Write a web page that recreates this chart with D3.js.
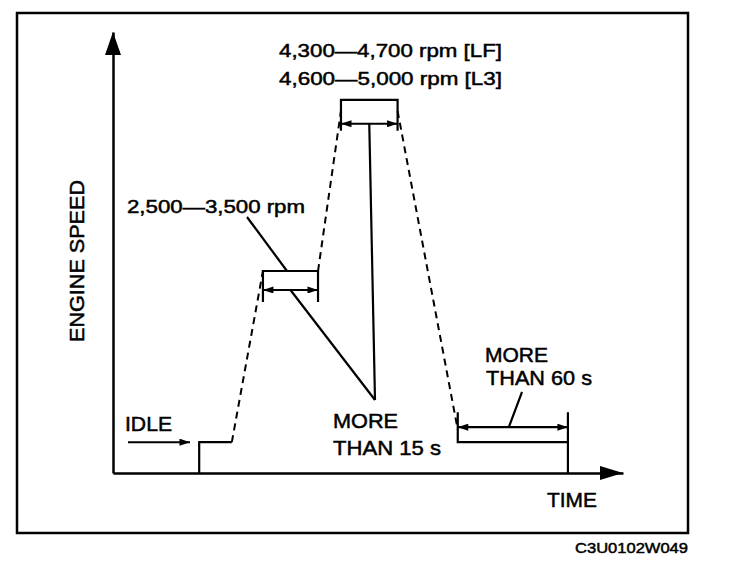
<!DOCTYPE html>
<html lang="en">
<head>
    <meta charset="UTF-8">
    <title>Engine speed test pattern</title>
    <script src="https://d3js.org/d3.v7.min.js"></script>
    <style>
        body { margin: 0; background: #fff; }
        svg { display: block; }
        text { font-family: "Liberation Sans", Arial, sans-serif; fill: #000; stroke: #000; stroke-width: 0.5; }
    </style>
</head>
<body>
    <script>
        // schematic profile: time (arbitrary units) and engine speed (arbitrary units)
        const phaseNames  = ["idle start", "idle end", "hold 1 start", "hold 1 end", "hold 2 start", "hold 2 end", "hold 3 start", "hold 3 end"];
        const phaseTimes  = [16.9, 23.3, 29.4, 40.2, 44.7, 55.8, 67.6, 89.2];
        const phaseLevels = [7.0, 7.0, 45.8, 45.8, 84.6, 84.6, 7.0, 7.0];

        const rangeLabels  = ["4,300—4,700 rpm [LF]", "4,600—5,000 rpm [L3]", "2,500—3,500 rpm"];
        const holdLabels   = ["MORE", "THAN 15 s", "MORE", "THAN 60 s"];
        const axisLabels   = ["ENGINE SPEED", "TIME"];
        const idleLabel    = "IDLE";
        const figureCode   = "C3U0102W049";

        const w = 736;
        const h = 562;
        const svg = d3.select("body")
            .append("svg")
            .attr("width", w)
            .attr("height", h);

        const x = d3.scaleLinear().domain([0, 100]).range([113, 623]);
        const y = d3.scaleLinear().domain([0, 100]).range([473, 32]);

        const pts = phaseTimes.map(function(t, i) { return [t, phaseLevels[i]]; });
        const line = d3.line().x(function(d) { return x(d[0]); }).y(function(d) { return y(d[1]); });

        // frame
        svg.append("rect")
            .attr("x", 17).attr("y", 13)
            .attr("width", 671).attr("height", 520)
            .attr("fill", "none").attr("stroke", "#000").attr("stroke-width", 2.5);

        // arrow markers
        const defs = svg.append("defs");
        defs.append("marker")
            .attr("id", "head")
            .attr("markerUnits", "userSpaceOnUse")
            .attr("viewBox", "0 0 12 8")
            .attr("refX", 12).attr("refY", 4)
            .attr("markerWidth", 12).attr("markerHeight", 7)
            .attr("orient", "auto-start-reverse")
            .append("path").attr("d", "M0,0 L12,4 L0,8 Z").attr("fill", "#000");

        // axes (no ticks, just the lines)
        svg.append("g")
            .attr("transform", "translate(0," + y(0) + ")")
            .call(d3.axisBottom(x).tickValues([]).tickSizeOuter(0))
            .select(".domain").attr("stroke-width", 2.5);
        svg.append("g")
            .attr("transform", "translate(" + x(0) + ",0)")
            .call(d3.axisLeft(y).tickValues([]).tickSizeOuter(0))
            .select(".domain").attr("stroke-width", 2.5);

        svg.append("path")
            .attr("d", "M" + x(0) + "," + y(100) + " L" + (x(0) + 8) + "," + (y(100) + 23) + " L" + (x(0) - 8) + "," + (y(100) + 23) + " Z")
            .attr("fill", "#000");
        svg.append("path")
            .attr("d", "M" + x(100) + "," + y(0) + " L" + (x(100) - 23) + "," + (y(0) - 7) + " L" + (x(100) - 23) + "," + (y(0) + 7) + " Z")
            .attr("fill", "#000");

        const solid = function(d) {
            svg.append("path").attr("d", line(d))
                .attr("fill", "none").attr("stroke", "#000").attr("stroke-width", 2.2);
        };
        const dashed = function(d) {
            svg.append("path").attr("d", line(d))
                .attr("fill", "none").attr("stroke", "#000").attr("stroke-width", 2)
                .attr("stroke-dasharray", "7,5");
        };

        // idle stretch with its start tick
        solid([[phaseTimes[0], 0], pts[0], pts[1]]);

        // ramps between stages
        dashed([pts[1], pts[2]]);
        dashed([pts[3], [pts[4][0], pts[4][1] - 2.5]]);
        dashed([[pts[5][0], pts[5][1] - 2.5], [pts[6][0], pts[6][1] + 2.8]]);

        // hold brackets: top line with ticks hanging down, and a double arrow
        function holdBracket(i0, i1, dir, tick, arrow, extraDown) {
            const a = pts[i0], b = pts[i1];
            solid([[a[0], a[1] + dir * tick], a, b, [b[0], b[1] + dir * tick]]);
            if (extraDown) solid([b, [b[0], 0]]);
            svg.append("line")
                .attr("x1", x(a[0])).attr("x2", x(b[0]))
                .attr("y1", y(a[1] + dir * arrow)).attr("y2", y(a[1] + dir * arrow))
                .attr("stroke", "#000").attr("stroke-width", 2.2)
                .attr("marker-start", "url(#head)").attr("marker-end", "url(#head)");
            return [(a[0] + b[0]) / 2, a[1] + dir * arrow];
        }
        const mid1 = holdBracket(2, 3, -1, 7.0, 4.3, false);
        const mid2 = holdBracket(4, 5, -1, 7.0, 5.4, false);
        const mid3 = holdBracket(6, 7, 1, 6.8, 3.4, true);

        // leader lines
        const leader = function(x1, y1, x2, y2) {
            svg.append("line")
                .attr("x1", x1).attr("y1", y1).attr("x2", x2).attr("y2", y2)
                .attr("stroke", "#000").attr("stroke-width", 2.2);
        };
        leader(247, 217, 287, y(pts[2][1]));
        leader(x(mid1[0]), y(mid1[1]), 375, 400);
        leader(x(mid2[0]), y(mid2[1]), 375, 400);
        leader(522, 392, x(mid3[0]) - 4, y(mid3[1]));

        // idle arrow
        svg.append("line")
            .attr("x1", 128).attr("x2", 190)
            .attr("y1", y(phaseLevels[0])).attr("y2", y(phaseLevels[0]))
            .attr("stroke", "#000").attr("stroke-width", 2)
            .attr("marker-end", "url(#head)");

        // labels
        const label = function(txt, lx, ly, len, size) {
            return svg.append("text")
                .attr("x", lx).attr("y", ly)
                .attr("font-size", size)
                .attr("textLength", len)
                .attr("lengthAdjust", "spacingAndGlyphs")
                .text(txt);
        };
        label(rangeLabels[0], 279, 57, 223, 19);
        label(rangeLabels[1], 279, 85, 223, 19);
        label(rangeLabels[2], 127, 213, 178, 19);
        label(idleLabel, 125, 431, 47, 20);
        label(holdLabels[0], 333, 428, 65, 21);
        label(holdLabels[1], 333, 455, 108, 21);
        label(holdLabels[2], 485, 362, 63, 21);
        label(holdLabels[3], 486, 385, 106, 21);
        label(axisLabels[1], 547, 507, 50, 21);
        label(figureCode, 575, 553, 113, 15);
        label(axisLabels[0], 0, 0, 162, 21)
            .attr("transform", "translate(84,342) rotate(-90)");
    </script>
</body>
</html>
